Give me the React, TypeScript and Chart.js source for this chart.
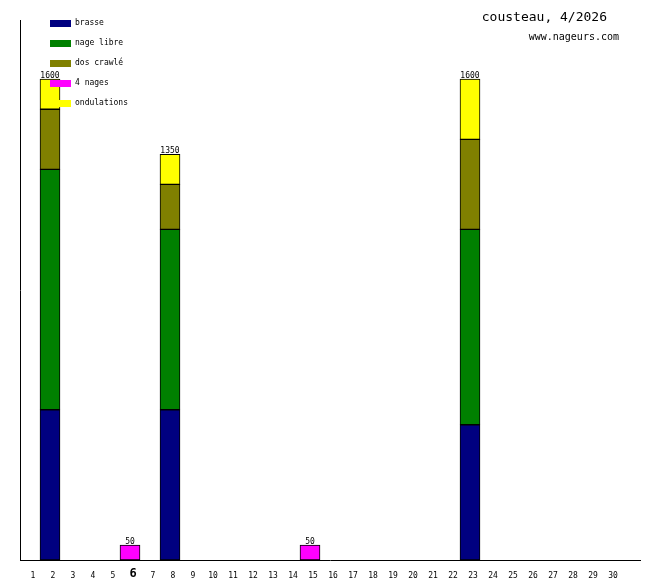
import React, { useEffect, useRef } from "react";
import { Chart, registerables } from "chart.js";

Chart.register(...registerables);

const days: string[] = [
  "1","2","3","4","5","6","7","8","9","10","11","12","13","14","15",
  "16","17","18","19","20","21","22","23","24","25","26","27","28","29","30","",
];
const today = "6";
const titleText = "cousteau, 4/2026";
const siteText = "www.nageurs.com";

const seriesNames = ["brasse", "nage libre", "dos crawlé", "4 nages", "ondulations"];
const seriesColors = ["#000080", "#008000", "#808000", "#ff00ff", "#ffff00"];

// values per day (index 0 = day 1)
const brasse: number[] = [0,500,0,0,0,0,0,500,0,0,0,0,0,0,0,0,0,0,0,0,0,0,450,0,0,0,0,0,0,0,0];
const nageLibre: number[] = [0,800,0,0,0,0,0,600,0,0,0,0,0,0,0,0,0,0,0,0,0,0,650,0,0,0,0,0,0,0,0];
const dosCrawle: number[] = [0,200,0,0,0,0,0,150,0,0,0,0,0,0,0,0,0,0,0,0,0,0,300,0,0,0,0,0,0,0,0];
const quatreNages: number[] = [0,0,0,0,0,50,0,0,0,0,0,0,0,0,50,0,0,0,0,0,0,0,0,0,0,0,0,0,0,0,0];
const ondulations: number[] = [0,100,0,0,0,0,0,100,0,0,0,0,0,0,0,0,0,0,0,0,0,0,200,0,0,0,0,0,0,0,0];

const yMax = 1797;

const overlayPlugin = {
  id: "overlay",
  afterDraw(chart: any) {
    const ctx = chart.ctx;
    const x = chart.scales.x;
    const y = chart.scales.y;
    ctx.save();
    // totals on top of stacks
    ctx.fillStyle = "#000";
    ctx.font = "8px 'DejaVu Sans Mono'";
    ctx.textAlign = "center";
    ctx.textBaseline = "bottom";
    const all = [brasse, nageLibre, dosCrawle, quatreNages, ondulations];
    for (let i = 0; i < days.length; i++) {
      const total = all.reduce((s, arr) => s + (arr[i] || 0), 0);
      if (total > 0) {
        ctx.fillText(String(total), x.getPixelForValue(i), y.getPixelForValue(total) + 1);
      }
    }
    // legend
    ctx.textAlign = "left";
    ctx.textBaseline = "middle";
    ctx.font = "8px 'DejaVu Sans Mono'";
    seriesNames.forEach((name, k) => {
      const yy = 20 + k * 20;
      ctx.fillStyle = seriesColors[k];
      ctx.fillRect(50, yy, 21, 7);
      ctx.fillStyle = "#000";
      ctx.fillText(name, 75, yy + 3);
    });
    // title
    ctx.textAlign = "right";
    ctx.font = "13px 'DejaVu Sans Mono'";
    ctx.fillText(titleText, 607, 18);
    ctx.font = "10px 'DejaVu Sans Mono'";
    ctx.fillText(siteText, 619, 37);
    ctx.restore();
  },
};

export default function App() {
  const ref = useRef<HTMLCanvasElement | null>(null);
  useEffect(() => {
    if (!ref.current) return;
    const mk = (label: string, data: number[], k: number) => ({
      label,
      data,
      backgroundColor: seriesColors[k],
      borderColor: "#000",
      borderWidth: 1,
      borderSkipped: false,
      barPercentage: 1,
      categoryPercentage: 1,
    });
    const chart = new Chart(ref.current, {
      type: "bar",
      data: {
        labels: days,
        datasets: [
          mk(seriesNames[0], brasse, 0),
          mk(seriesNames[1], nageLibre, 1),
          mk(seriesNames[2], dosCrawle, 2),
          mk(seriesNames[3], quatreNages, 3),
          mk(seriesNames[4], ondulations, 4),
        ],
      },
      options: {
        animation: false,
        responsive: false,
        layout: { padding: { top: 20, right: 20, left: 0, bottom: 0 } },
        plugins: { legend: { display: false }, tooltip: { enabled: false } },
        scales: {
          x: {
            stacked: true,
            grid: { display: false },
            border: { display: true, color: "#000", width: 1 },
            afterFit: (s: any) => { s.height = 20; },
            ticks: {
              color: "#000",
              autoSkip: false,
              maxRotation: 0,
              padding: 6,
              labelOffset: 3,
              crossAlign: "center",
              font: (c: any) =>
                c.tick && c.tick.label === today
                  ? { family: "'DejaVu Sans Mono'", size: 12, weight: "bold" }
                  : { family: "'DejaVu Sans Mono'", size: 8 },
            },
          },
          y: {
            stacked: true,
            min: 0,
            max: yMax,
            grid: { display: false },
            border: { display: true, color: "#000", width: 1 },
            ticks: { display: false },
            afterFit: (s: any) => { s.width = 20; },
          },
        },
      },
      plugins: [overlayPlugin],
    });
    return () => chart.destroy();
  }, []);
  return (
    <div style={{ position: "fixed", left: 0, top: 0, width: 660, height: 580, background: "#fff" }}>
      <canvas ref={ref} width={660} height={580} style={{ width: 660, height: 580 }} />
    </div>
  );
}
